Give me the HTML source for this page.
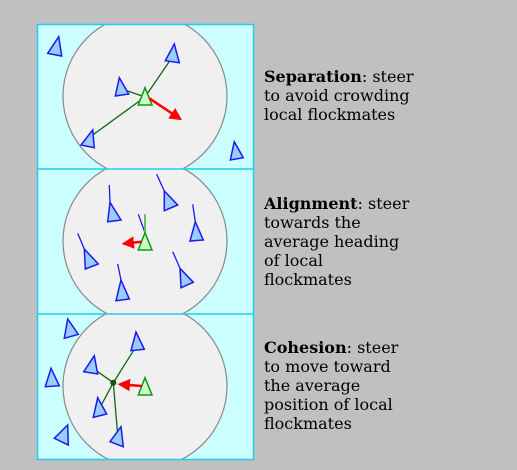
<!DOCTYPE html>
<html><head><meta charset="utf-8"><style>
html,body{margin:0;padding:0;background:#c0c0c0;width:517px;height:470px;overflow:hidden}
svg{position:absolute;left:0;top:0}
.t{position:absolute;left:264px;font-family:"DejaVu Serif","Liberation Serif",serif;font-size:16px;line-height:19px;color:#000;width:250px;white-space:nowrap}
.b{fill:#99ccff;stroke:#1a1aee;stroke-width:1.5}
.g{fill:#ccffcc;stroke:#119911;stroke-width:1.5}
.ln{stroke:#116611;stroke-width:1.3}
.tl{stroke:#1a1aee;stroke-width:1.3}
</style></head><body>
<svg width="517" height="470">
<defs>
<clipPath id="c1"><rect x="37" y="24" width="216" height="145"/></clipPath>
<clipPath id="c2"><rect x="37" y="169" width="216" height="145"/></clipPath>
<clipPath id="c3"><rect x="37" y="314" width="216" height="145"/></clipPath>
<marker id="ah" markerWidth="5" markerHeight="5" refX="4" refY="2.5" orient="auto" markerUnits="strokeWidth"><path d="M0,0 L5,2.5 L0,5 Z" fill="#ff0000"/></marker>
</defs>
<g>
<rect x="37" y="24" width="216" height="145" fill="#ccffff"/>
<circle cx="145" cy="96" r="82" fill="#f0f0f0" stroke="#888" stroke-width="1.2" clip-path="url(#c1)"/>
<line class="ln" x1="145" y1="97" x2="169" y2="62"/>
<line class="ln" x1="145" y1="97" x2="127.7" y2="91"/>
<line class="ln" x1="145" y1="97" x2="92.7" y2="135"/>
<polygon class="b" points="58.7,36.7 47.7,53.3 61.7,56"/>
<polygon class="b" points="174.3,44 165.3,60.7 179.3,62.7"/>
<polygon class="b" points="119.3,77.7 115.3,96 128.7,94"/>
<polygon class="b" points="92.7,130 81,145 94.3,147.7"/>
<polygon class="b" points="234.3,141.7 230.3,160 243.3,157.7"/>
<polygon class="g" points="145,87.7 138.3,105 152,105"/>
<line x1="149.3" y1="98.3" x2="180" y2="118.8" stroke="#ff0000" stroke-width="2.5" marker-end="url(#ah)"/>
</g>
<g>
<rect x="37" y="169" width="216" height="145" fill="#ccffff"/>
<circle cx="145" cy="241" r="82" fill="#f0f0f0" stroke="#888" stroke-width="1.2" clip-path="url(#c2)"/>
<line class="tl" x1="109.3" y1="185" x2="110" y2="202.3"/>
<line class="tl" x1="156.7" y1="174.3" x2="164.3" y2="191"/>
<line class="tl" x1="192.7" y1="204.3" x2="195.3" y2="221.7"/>
<line class="tl" x1="77.7" y1="233.3" x2="84.3" y2="249"/>
<line class="tl" x1="117.7" y1="264" x2="121" y2="280"/>
<line class="tl" x1="172.7" y1="251.7" x2="180" y2="268.3"/>
<line class="tl" x1="138.3" y1="214.3" x2="145" y2="232.7"/>
<line x1="145" y1="214.3" x2="145" y2="232.7" stroke="#66bb66" stroke-width="2"/>
<polygon class="b" points="110,202.3 107.7,221.7 121,220"/>
<polygon class="b" points="164.3,191 164.3,210.7 177.7,205"/>
<polygon class="b" points="195.3,221.7 190,241 203.3,240"/>
<polygon class="b" points="84.3,249 85.3,269 98.3,264"/>
<polygon class="b" points="121,280 116,300.7 129.3,299"/>
<polygon class="b" points="180,268.3 181,287.7 193.3,282.3"/>
<polygon class="g" points="145,232.7 138.3,250 152,250"/>
<line x1="142" y1="241.7" x2="124" y2="243.6" stroke="#ff0000" stroke-width="2.5" marker-end="url(#ah)"/>
</g>
<g>
<rect x="37" y="314" width="216" height="145" fill="#ccffff"/>
<circle cx="145" cy="386" r="82" fill="#f0f0f0" stroke="#888" stroke-width="1.2" clip-path="url(#c3)"/>
<line class="ln" x1="113.3" y1="382.7" x2="134.3" y2="349.3"/>
<line class="ln" x1="113.3" y1="382.7" x2="97.7" y2="371.7"/>
<line class="ln" x1="113.3" y1="382.7" x2="101" y2="405.7"/>
<line class="ln" x1="113.3" y1="382.7" x2="117.7" y2="435"/>
<polygon class="b" points="67.7,319 64.3,338.3 78.3,334.3"/>
<polygon class="b" points="51,368.3 45.3,386.7 59.3,385.7"/>
<polygon class="b" points="67.7,425 54.3,438.3 68.3,445"/>
<polygon class="b" points="136,332 131,350.7 144.3,349.3"/>
<polygon class="b" points="94.3,355.7 83.7,371.7 97.7,374"/>
<polygon class="b" points="97.7,397.7 93.3,417.3 106.7,414"/>
<polygon class="b" points="121,426.7 110,441.7 123.3,446.7"/>
<polygon class="g" points="145,377.7 138.3,395 152,395"/>
<circle cx="113.3" cy="382.7" r="3" fill="#115511"/>
<line x1="142" y1="386" x2="120" y2="384.3" stroke="#ff0000" stroke-width="2.5" marker-end="url(#ah)"/>
</g>
<g fill="none" stroke="#22ccee" stroke-width="1.5">
<rect x="37.5" y="24.5" width="216" height="435"/>
<line x1="37" y1="169" x2="254" y2="169"/>
<line x1="37" y1="314" x2="254" y2="314"/>
</g>
</svg>
<div class="t" style="top:67px"><b>Separation</b>: steer<br>to avoid crowding<br>local flockmates</div>
<div class="t" style="top:194px"><b>Alignment</b>: steer<br>towards the<br>average heading<br>of local<br>flockmates</div>
<div class="t" style="top:338px"><b>Cohesion</b>: steer<br>to move toward<br>the average<br>position of local<br>flockmates</div>
</body></html>
